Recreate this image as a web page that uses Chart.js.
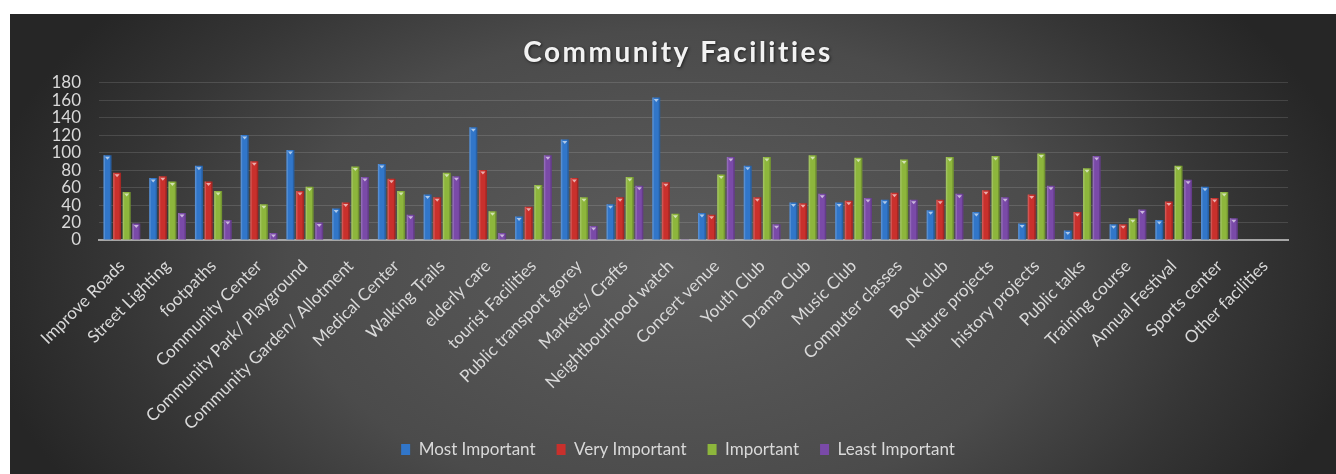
<!DOCTYPE html>
<html>
<head>
<meta charset="utf-8">
<script src="https://cdn.jsdelivr.net/npm/chart.js@4.4.1/dist/chart.umd.min.js"></script>
<style>
  html, body { margin: 0; padding: 0; background: #fff; }
  #wrap {
    position: absolute; left: 10px; top: 14px; width: 1326px; height: 460px;
    background: radial-gradient(ellipse 700px 430px at 50% 55%, #5d5d5d 0%, #4b4b4b 55%, #353535 80%, #262626 100%);
  }
</style>
</head>
<body>
<div id="wrap"><canvas id="facilityChart"></canvas></div>
<script>
const categories = [
  "Improve Roads", "Street Lighting", "footpaths", "Community Center",
  "Community Park/ Playground", "Community Garden/ Allotment", "Medical Center",
  "Walking Trails", "elderly care", "tourist Facilities", "Public transport gorey",
  "Markets/ Crafts", "Neightbourhood watch", "Concert venue", "Youth Club",
  "Drama Club", "Music Club", "Computer classes", "Book club", "Nature projects",
  "history projects", "Public talks", "Training course", "Annual Festival",
  "Sports center", "Other facilities"
];
const mostImportant  = [97, 71, 85, 120, 103, 36, 87, 52, 129, 27, 115, 41, 163, 31, 85, 43, 43, 46, 34, 32, 19, 11, 18, 23, 61, 0];
const veryImportant  = [77, 73, 67, 90, 56, 43, 70, 49, 80, 38, 71, 49, 66, 29, 49, 42, 45, 54, 46, 57, 52, 32, 18, 44, 48, 0];
const important      = [55, 67, 56, 41, 61, 84, 56, 77, 33, 63, 49, 72, 30, 75, 95, 97, 94, 92, 95, 96, 99, 82, 25, 85, 55, 0];
const leastImportant = [19, 31, 23, 8, 20, 72, 29, 73, 8, 97, 16, 62, 1, 95, 18, 53, 48, 46, 53, 49, 62, 96, 35, 69, 25, 0];
const yTicks = [0, 20, 40, 60, 80, 100, 120, 140, 160, 180];

Chart.defaults.font.family = "Lato, 'Open Sans', sans-serif";

// little bevel highlight at the top of each bar, like the Excel style
const bevelMarks = {
  id: "bevelMarks",
  afterDatasetsDraw(chart) {
    const ctx = chart.ctx;
    ctx.save();
    chart.data.datasets.forEach((ds, i) => {
      chart.getDatasetMeta(i).data.forEach((bar, j) => {
        if (ds.data[j] < 3) return;
        const half = bar.width / 2;
        ctx.fillStyle = "rgba(255,255,255,0.18)";
        ctx.fillRect(bar.x - half, bar.y, 1.5, bar.base - bar.y);
        ctx.fillStyle = "rgba(0,0,0,0.18)";
        ctx.fillRect(bar.x + half - 1.5, bar.y, 1.5, bar.base - bar.y);
        ctx.fillStyle = "rgba(255,255,255,0.6)";
        ctx.beginPath();
        ctx.moveTo(bar.x - 2.5, bar.y + 1.5);
        ctx.lineTo(bar.x + 2.5, bar.y + 1.5);
        ctx.lineTo(bar.x, bar.y + 4.5);
        ctx.closePath();
        ctx.fill();
      });
    });
    ctx.restore();
  },
};

function series(label, data, color) {
  return {
    label,
    data,
    backgroundColor: color,
    borderWidth: 0,
    categoryPercentage: 0.84,
    barPercentage: 0.83,
  };
}

const chart = new Chart(document.getElementById("facilityChart"), {
  type: "bar",
  data: {
    labels: categories,
    datasets: [
      series("Most Important", mostImportant, "#3176c9"),
      series("Very Important", veryImportant, "#c9302c"),
      series("Important", important, "#8db63c"),
      series("Least Important", leastImportant, "#7a4aa8"),
    ],
  },
  options: {
    responsive: true,
    maintainAspectRatio: false,
    animation: false,
    layout: { padding: { left: 10, right: 0, top: 0, bottom: 6 } },
    plugins: {
      title: {
        display: true,
        text: "Community Facilities",
        color: "#f2f2f2",
        font: { size: 28, weight: "bold" },
        padding: { top: 22, bottom: 13 },
      },
      legend: {
        position: "bottom",
        labels: {
          color: "#d9d9d9",
          font: { size: 17 },
          boxWidth: 9,
          boxHeight: 11,
          padding: 21,
        },
      },
      tooltip: { enabled: false },
    },
    scales: {
      x: {
        grid: { display: false },
        border: { color: "#a6a6a6", width: 2 },
        ticks: {
          color: "#d9d9d9",
          font: { size: 17 },
          autoSkip: false,
          maxRotation: 45,
          minRotation: 45,
          padding: 8,
        },
        afterFit: (scale) => {
          scale.height = 180;
          // long rotated labels run down beside the legend, don't clip them
          scale._computeLabelArea = () => null;
        },
      },
      y: {
        min: 0,
        max: 180,
        afterBuildTicks: (scale) => { scale.ticks = yTicks.map((v) => ({ value: v })); },
        grid: { color: "rgba(255,255,255,0.13)", drawTicks: false },
        border: { display: false },
        ticks: { color: "#d9d9d9", font: { size: 17 }, padding: 18, autoSkip: false },
        afterFit: (scale) => { scale.width = 79; },
      },
      // empty right axis, only keeps the plot clear of the right edge
      yRight: {
        position: "right",
        grid: { display: false },
        border: { display: false },
        ticks: { display: false },
        afterFit: (scale) => { scale.width = 48; },
      },
    },
  },
  plugins: [bevelMarks],
});

// Excel title has spaced letters and a soft shadow
const titleBox = chart.titleBlock;
const drawTitle = titleBox.draw.bind(titleBox);
titleBox.draw = function () {
  const ctx = chart.ctx;
  ctx.save();
  ctx.letterSpacing = "2.5px";
  ctx.shadowColor = "rgba(0,0,0,0.6)";
  ctx.shadowBlur = 3;
  ctx.shadowOffsetX = 1;
  ctx.shadowOffsetY = 1;
  drawTitle();
  ctx.restore();
};
chart.draw();
</script>
</body>
</html>
